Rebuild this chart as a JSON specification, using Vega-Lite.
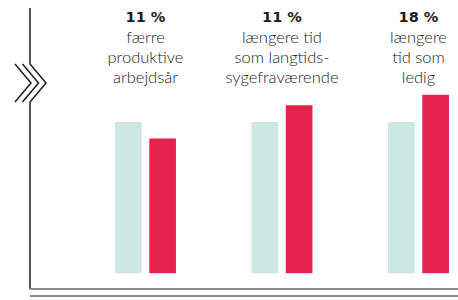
{
  "$schema": "https://vega.github.io/schema/vega-lite/v6.json",
  "width": 428,
  "height": 281,
  "autosize": {"type": "none"},
  "padding": {"left": 30, "top": 8, "right": 0, "bottom": 11},
  "config": {"view": {"stroke": null}, "font": "Lato"},
  "datasets": {
    "bars": [
      {"group": "A", "series": "ref", "value": 100},
      {"group": "A", "series": "grp", "value": 89},
      {"group": "B", "series": "ref", "value": 100},
      {"group": "B", "series": "grp", "value": 111},
      {"group": "C", "series": "ref", "value": 100},
      {"group": "C", "series": "grp", "value": 118}
    ],
    "labels": [
      {"group": "A", "pct": "11 %", "desc": "færre\nproduktive\narbejdsår"},
      {"group": "B", "pct": "11 %", "desc": "længere tid\nsom langtids-\nsygefraværende"},
      {"group": "C", "pct": "18 %", "desc": "længere\ntid som\nledig"}
    ],
    "deco": [
      {"k": "axis", "i": 1, "x": 0, "y": 175.3},
      {"k": "axis", "i": 2, "x": 0, "y": 138.3},
      {"k": "axis", "i": 3, "x": 16, "y": 125.8},
      {"k": "axis", "i": 4, "x": 0, "y": 113.2},
      {"k": "axis", "i": 5, "x": 0, "y": -10.4},
      {"k": "c1", "i": 1, "x": -15, "y": 138.3},
      {"k": "c1", "i": 2, "x": 1, "y": 125.8},
      {"k": "c1", "i": 3, "x": -15, "y": 113.2},
      {"k": "c2", "i": 1, "x": -7.5, "y": 138.3},
      {"k": "c2", "i": 2, "x": 8.5, "y": 125.8},
      {"k": "c2", "i": 3, "x": -7.5, "y": 113.2}
    ]
  },
  "resolve": {"scale": {"x": "independent"}},
  "layer": [
    {
      "data": {"name": "bars"},
      "mark": {"type": "bar"},
      "encoding": {
        "x": {"field": "group", "type": "nominal", "axis": null,
              "scale": {"type": "band", "paddingInner": 0.5531, "paddingOuter": 0.3443, "align": 0.904}},
        "xOffset": {"field": "series", "type": "nominal", "sort": ["ref", "grp"],
                    "scale": {"paddingInner": 0.222, "paddingOuter": 0}},
        "y": {"field": "value", "type": "quantitative", "axis": null,
              "scale": {"domain": [-10.4, 175.3], "nice": false, "zero": false}},
        "color": {"field": "series", "type": "nominal", "legend": null,
                  "scale": {"domain": ["ref", "grp"], "range": ["#cde8e2", "#e8224f"]}}
      }
    },
    {
      "data": {"name": "labels"},
      "mark": {"type": "text", "font": "DejaVu Sans", "fontWeight": "bold", "fontSize": 14.5, "color": "#1d1d1b", "baseline": "alphabetic", "align": "center"},
      "encoding": {
        "x": {"field": "group", "type": "nominal", "axis": null,
              "scale": {"type": "band", "paddingInner": 0.5531, "paddingOuter": 0.3443, "align": 0.904}},
        "y": {"datum": 166.1, "type": "quantitative",
              "scale": {"domain": [-10.4, 175.3], "nice": false, "zero": false}},
        "text": {"field": "pct"}
      }
    },
    {
      "data": {"name": "labels"},
      "mark": {"type": "text", "font": "Lato", "fontWeight": 300, "fontSize": 16.5, "color": "#1d1d1b", "baseline": "alphabetic", "align": "center", "lineBreak": "\n", "lineHeight": 20},
      "encoding": {
        "x": {"field": "group", "type": "nominal", "axis": null,
              "scale": {"type": "band", "paddingInner": 0.5531, "paddingOuter": 0.3443, "align": 0.904}},
        "y": {"datum": 152.2, "type": "quantitative",
              "scale": {"domain": [-10.4, 175.3], "nice": false, "zero": false}},
        "text": {"field": "desc"}
      }
    },
    {
      "data": {"name": "deco"},
      "mark": {"type": "line", "color": "#1d1d1b", "strokeWidth": 1.5, "strokeJoin": "miter"},
      "encoding": {
        "x": {"field": "x", "type": "quantitative", "axis": null,
              "scale": {"domain": [0, 428], "nice": false, "zero": false}},
        "y": {"field": "y", "type": "quantitative",
              "scale": {"domain": [-10.4, 175.3], "nice": false, "zero": false}},
        "detail": {"field": "k"},
        "order": {"field": "i"}
      }
    },
    {
      "data": {"values": [{}]},
      "mark": {"type": "rule", "color": "#8c8c8c", "strokeWidth": 2},
      "encoding": {
        "y": {"datum": -10.4, "type": "quantitative",
              "scale": {"domain": [-10.4, 175.3], "nice": false, "zero": false}}
      }
    },
    {
      "data": {"values": [{}]},
      "mark": {"type": "rule", "color": "#8c8c8c", "strokeWidth": 2},
      "encoding": {
        "y": {"datum": -15.0, "type": "quantitative",
              "scale": {"domain": [-10.4, 175.3], "nice": false, "zero": false}}
      }
    }
  ]
}
